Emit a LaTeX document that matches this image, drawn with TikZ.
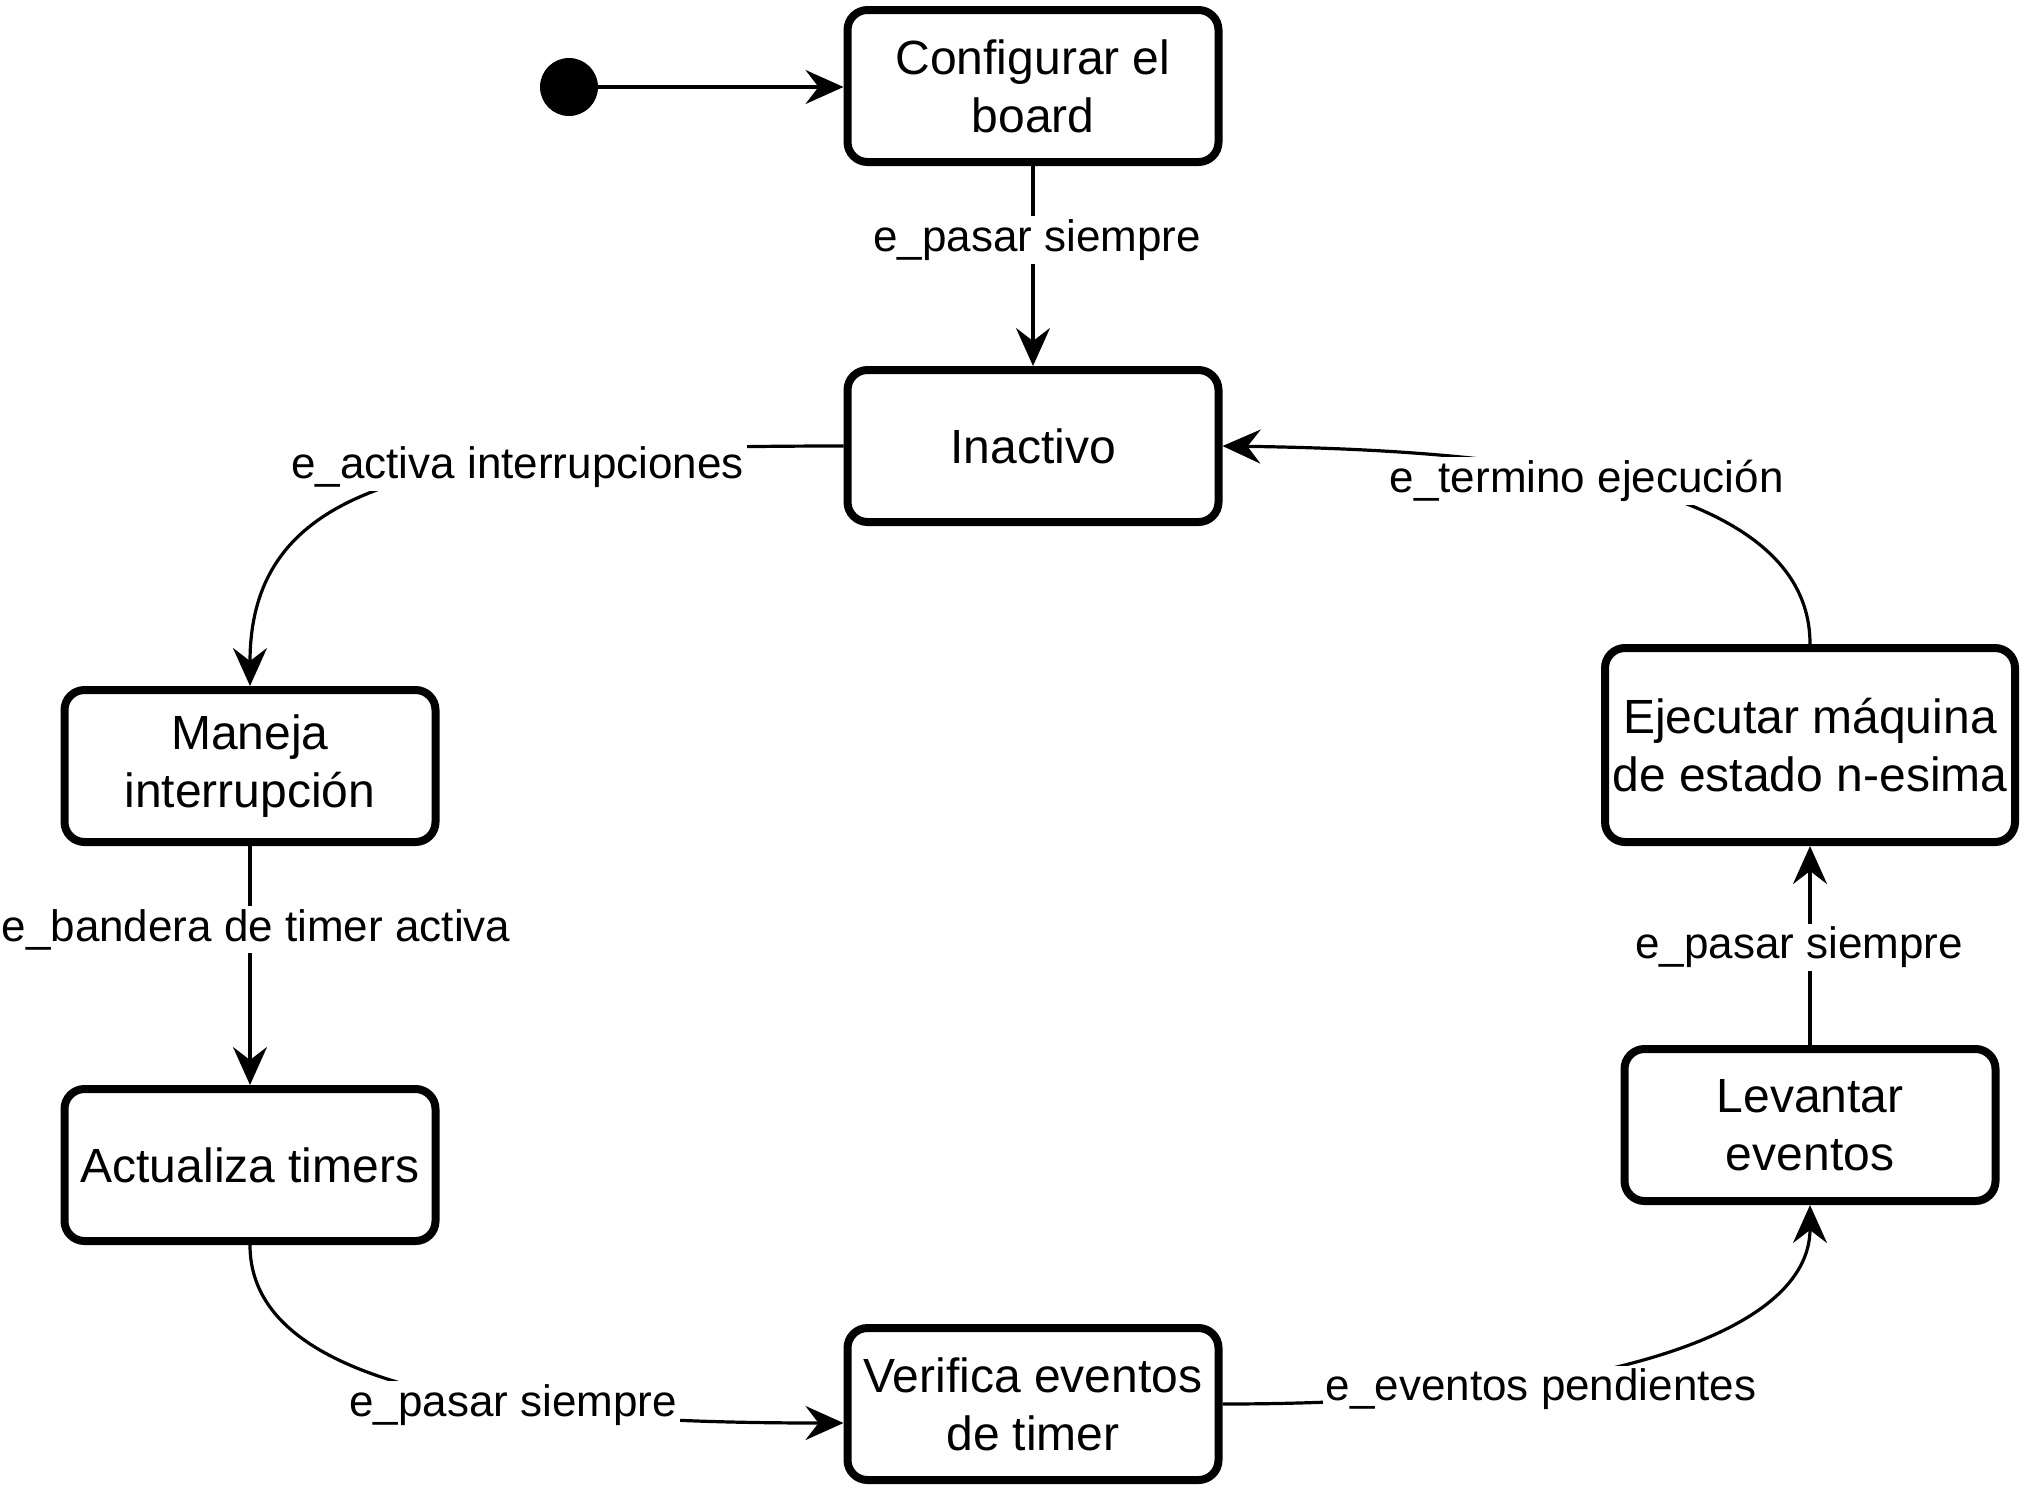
\documentclass[tikz,border=0pt]{standalone}
\usepackage{fontspec}
\setmainfont{Liberation Sans}
\usetikzlibrary{arrows.meta}

\tikzset{
  state/.style={draw, line width=4pt, rounded corners=10pt, minimum width=185.5pt, minimum height=76pt,
    align=center, inner sep=2pt, font=\fontsize{24}{29}\selectfont},
  trans/.style={line width=1.6pt, -{Stealth[length=19pt,width=17pt,inset=6.5pt]}},
  evlabel/.style={fill=white, inner sep=1.5pt, font=\fontsize{22}{26}\selectfont},
}

\begin{document}
\begin{tikzpicture}[x=0.5pt,y=0.5pt,yscale=-1]
\useasboundingbox (0,0) rectangle (2028,1488);

%Initial state
\node [circle, fill=black, inner sep=0pt, minimum size=29pt] (init) at (569,87) {};

%Rounded Rect
\node [state] (config) at (1033,86) {Configurar el\\board};
%Rounded Rect
\node [state] (inact) at (1033,446) {Inactivo};
%Rounded Rect
\node [state] (maneja) at (250,766) {Maneja\\interrupción};
%Rounded Rect
\node [state] (actual) at (250,1165) {Actualiza timers};
%Rounded Rect
\node [state] (verif) at (1033,1404) {Verifica eventos\\de timer};
%Rounded Rect
\node [state] (levant) at (1810,1125) {Levantar\\eventos};
%Rounded Rect
\node [state, minimum width=205pt, minimum height=97pt] (ejec) at (1810,745) {Ejecutar máquina\\de estado n-esima};

%Straight Lines
\draw [trans] (init) -- (init -| config.west);
%Straight Lines
\draw [trans] (config) -- node [evlabel, pos=0.37, xshift=2pt] {e\_pasar siempre} (inact);
%Curve Lines
\draw [trans] (inact.west) .. controls +(-393,0) and +(0,-215) .. node [evlabel, pos=0.33, yshift=-3.5pt] {e\_activa interrupciones} (maneja.north);
%Straight Lines
\draw [trans] (maneja) -- node [evlabel, pos=0.35, xshift=3pt] {e\_bandera de timer activa} (actual);
%Curve Lines
\draw [trans] (actual.south) .. controls +(0,154) and +(-293,0) .. node [evlabel, pos=0.6, xshift=2.5pt] {e\_pasar siempre} ([yshift=9.5pt]verif.west);
%Curve Lines
\draw [trans] (verif.east) .. controls +(380,0) and +(0,128) .. node [evlabel, pos=0.33, yshift=-4pt] {e\_eventos pendientes} (levant.south);
%Straight Lines
\draw [trans] (levant) -- node [evlabel, pos=0.49, xshift=-5.5pt] {e\_pasar siempre} (ejec);
%Curve Lines
\draw [trans] (ejec.north) .. controls +(0,-167) and +(280,4) .. node [evlabel, pos=0.55, yshift=-2.5pt] {e\_termino ejecución} (inact.east);

\end{tikzpicture}
\end{document}
